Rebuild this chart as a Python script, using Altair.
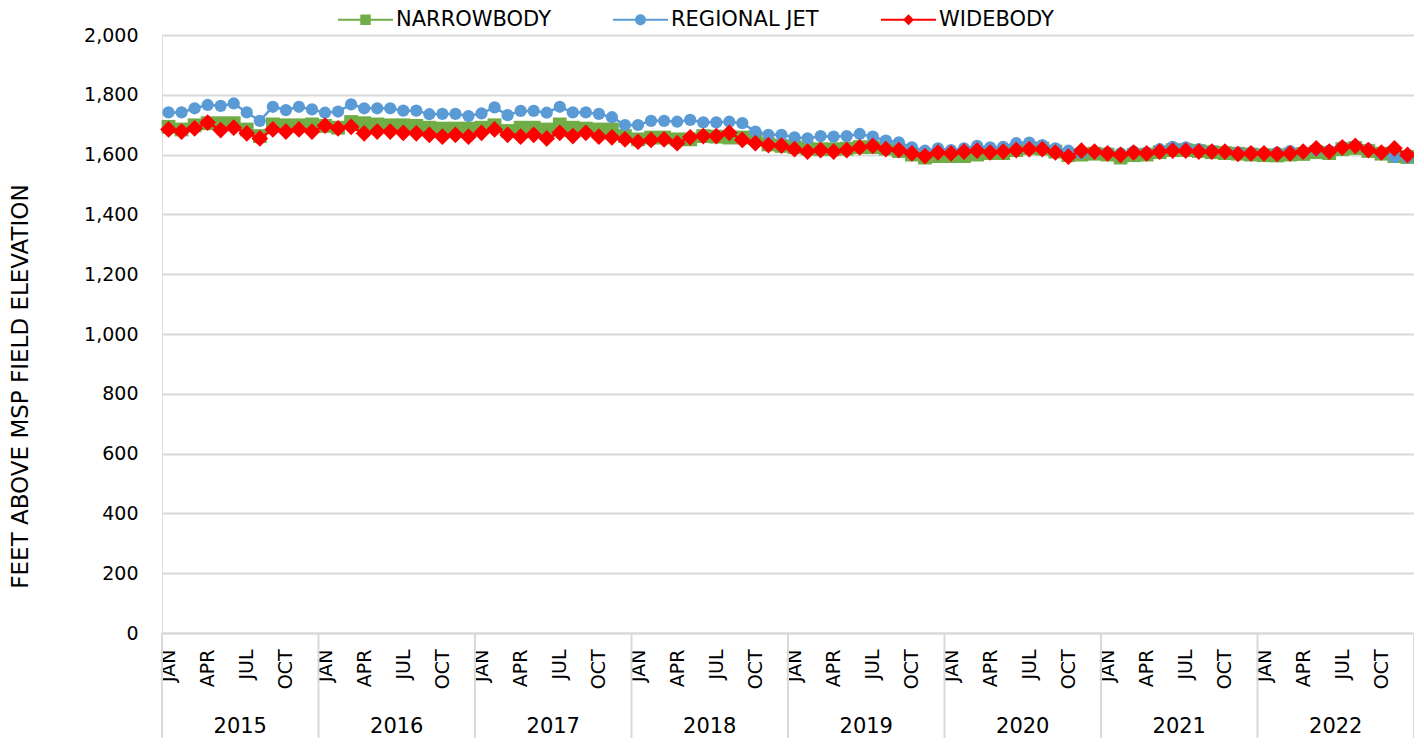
import altair as alt
import pandas as pd

years = [2015, 2016, 2017, 2018, 2019, 2020, 2021, 2022]
month_labels = ["JAN", "APR", "JUL", "OCT"]
series_names = ["NARROWBODY", "REGIONAL JET", "WIDEBODY"]
series_colors = ["#70ad47", "#5b9bd5", "#ff0000"]

narrowbody = [
    1693, 1684, 1698, 1705, 1705, 1705, 1684, 1662, 1701, 1698, 1698, 1701,
    1696, 1690, 1709, 1705, 1701, 1698, 1698, 1696, 1690, 1687, 1687, 1687,
    1690, 1698, 1679, 1690, 1690, 1684, 1701, 1690, 1687, 1684, 1684, 1662,
    1651, 1657, 1657, 1651, 1651, 1662, 1660, 1657, 1657, 1657, 1634, 1629,
    1625, 1620, 1618, 1618, 1620, 1625, 1625, 1620, 1612, 1600, 1590, 1595,
    1595, 1595, 1600, 1605, 1605, 1615, 1622, 1620, 1610, 1598, 1600, 1603,
    1600, 1590, 1598, 1600, 1608, 1615, 1615, 1612, 1608, 1605, 1603, 1600,
    1598, 1597, 1600, 1602, 1608, 1605, 1618, 1622, 1612, 1603, 1595, 1592,
]
regional_jet = [
    1741, 1741, 1755, 1766, 1763, 1771, 1741, 1713, 1760, 1749, 1760, 1751,
    1740, 1744, 1768, 1755, 1755, 1755, 1747, 1747, 1735, 1736, 1736, 1729,
    1738, 1758, 1732, 1746, 1746, 1740, 1760, 1741, 1741, 1736, 1725, 1699,
    1699, 1713, 1713, 1710, 1716, 1708, 1708, 1710, 1705, 1677, 1666, 1666,
    1658, 1654, 1662, 1660, 1662, 1669, 1660, 1647, 1641, 1624, 1613, 1621,
    1615, 1621, 1629, 1624, 1626, 1638, 1640, 1632, 1621, 1613, 1605, 1608,
    1607, 1604, 1610, 1607, 1618, 1626, 1624, 1618, 1613, 1610, 1607, 1607,
    1604, 1607, 1612, 1610, 1615, 1613, 1626, 1629, 1618, 1604, 1592, 1590,
]
widebody = [
    1684, 1677, 1688, 1707, 1682, 1690, 1671, 1654, 1684, 1677, 1684, 1677,
    1697, 1688, 1693, 1671, 1677, 1677, 1673, 1671, 1666, 1660, 1666, 1660,
    1673, 1684, 1666, 1660, 1666, 1654, 1673, 1662, 1673, 1660, 1658, 1651,
    1643, 1649, 1651, 1638, 1658, 1662, 1662, 1673, 1649, 1638, 1632, 1630,
    1618, 1610, 1615, 1610, 1615, 1624, 1629, 1618, 1615, 1604, 1595, 1607,
    1604, 1610, 1613, 1607, 1610, 1615, 1618, 1618, 1607, 1593, 1613, 1610,
    1604, 1599, 1607, 1604, 1610, 1613, 1613, 1610, 1610, 1610, 1602, 1604,
    1604, 1602, 1604, 1610, 1621, 1610, 1624, 1629, 1615, 1607, 1621, 1599,
]

W, H = 1252, 598
FONT = "DejaVu Sans"
GRID = "#d9d9d9"

n = len(narrowbody)
idx = list(range(n))
df_n = pd.DataFrame({"idx": idx, "value": narrowbody})
df_r = pd.DataFrame({"idx": idx, "value": regional_jet})
df_w = pd.DataFrame({"idx": idx, "value": widebody})

x_enc = alt.X(
    "idx:Q",
    scale=alt.Scale(domain=[-0.5, n - 0.5], nice=False, zero=False),
    axis=alt.Axis(
        values=list(range(0, n, 3)),
        labelExpr="%s[floor(datum.value/3) %% 4]" % str(month_labels),
        labelAngle=270, labelAlign="right", labelBaseline="middle",
        labelPadding=16, labelFlush=False, labelOverlap=False,
        ticks=False, grid=False, domainColor=GRID, domainWidth=2,
        labelFont=FONT, labelFontSize=19, labelColor="#000", title=None,
    ),
)
y_enc = alt.Y(
    "value:Q",
    scale=alt.Scale(domain=[0, 2000], nice=False),
    axis=alt.Axis(
        values=list(range(0, 2001, 200)), format=",d",
        grid=True, gridColor=GRID, gridWidth=2, domain=False, ticks=False,
        labelPadding=24, labelFont=FONT, labelFontSize=19, labelColor="#000",
        title="FEET ABOVE MSP FIELD ELEVATION", titleFont=FONT, titleFontSize=23,
        titleFontWeight="normal", titleColor="#000", titleAngle=270, titleLimit=700,
        titleX=-142, titleY=351, titleAlign="center", titleBaseline="middle",
    ),
)

def series_layers(df, color, shape, size):
    line = alt.Chart(df).mark_line(color=color, strokeWidth=2.5).encode(x=x_enc, y=y_enc)
    pts = alt.Chart(df).mark_point(shape=shape, filled=True, size=size, color=color,
                                   opacity=1, strokeWidth=0).encode(x=x_enc, y=y_enc)
    return [line, pts]

layers = []
layers += series_layers(df_n, series_colors[0], "square", 190)
layers += series_layers(df_r, series_colors[1], "circle", 150)
layers += series_layers(df_w, series_colors[2], "diamond", 280)

# year separators and labels
bounds = pd.DataFrame({"b": [i * 12 - 0.5 for i in range(len(years) + 1)]})
sep = alt.Chart(bounds).mark_rule(color=GRID, strokeWidth=2).encode(
    x=alt.X("b:Q"), y=alt.value(H), y2=alt.value(H + 120))
yr = pd.DataFrame({"year": [str(y) for y in years], "mid": [i * 12 + 5.5 for i in range(len(years))]})
yr_text = alt.Chart(yr).mark_text(font=FONT, fontSize=21, color="#000").encode(
    x=alt.X("mid:Q"), y=alt.value(H + 94), text="year:N")

# legend (symbols combine line + marker)
paths = [
    "M-1,-0.035H1V0.035H-1Z M-0.19,-0.19H0.19V0.19H-0.19Z",
    "M-1,-0.035H1V0.035H-1Z M0.2,0 A0.2,0.2 0 1,1 -0.2,0 A0.2,0.2 0 1,1 0.2,0Z",
    "M-1,-0.035H1V0.035H-1Z M0,-0.2L0.2,0L0,0.2L-0.2,0Z",
]
leg_df = pd.DataFrame({"series": series_names, "idx": [0, 0, 0], "value": [-1000] * 3})
leg_props = dict(
    orient="none", legendX=176, legendY=-43, direction="horizontal", title=None,
    symbolSize=3025, symbolOpacity=1, symbolStrokeWidth=0, labelFont=FONT,
    labelFontSize=21, labelColor="#000", labelLimit=400, columnPadding=62,
    labelOffset=3, padding=0,
)
legend_layer = alt.Chart(leg_df).mark_point(filled=True, clip=True, opacity=1).encode(
    x=x_enc, y=y_enc,
    color=alt.Color("series:N", scale=alt.Scale(domain=series_names, range=series_colors),
                    legend=alt.Legend(**leg_props)),
    shape=alt.Shape("series:N", scale=alt.Scale(domain=series_names, range=paths),
                    legend=alt.Legend(**leg_props)),
)

chart = alt.layer(sep, yr_text, *layers, legend_layer).properties(
    width=W, height=H,
    padding={"left": 154, "top": 27, "right": 0, "bottom": 105},
    autosize=alt.AutoSizeParams(type="none"),
).configure_view(stroke=None).configure(background="white")

chart.save("out.html", embed_options={"renderer": "svg", "actions": False})
